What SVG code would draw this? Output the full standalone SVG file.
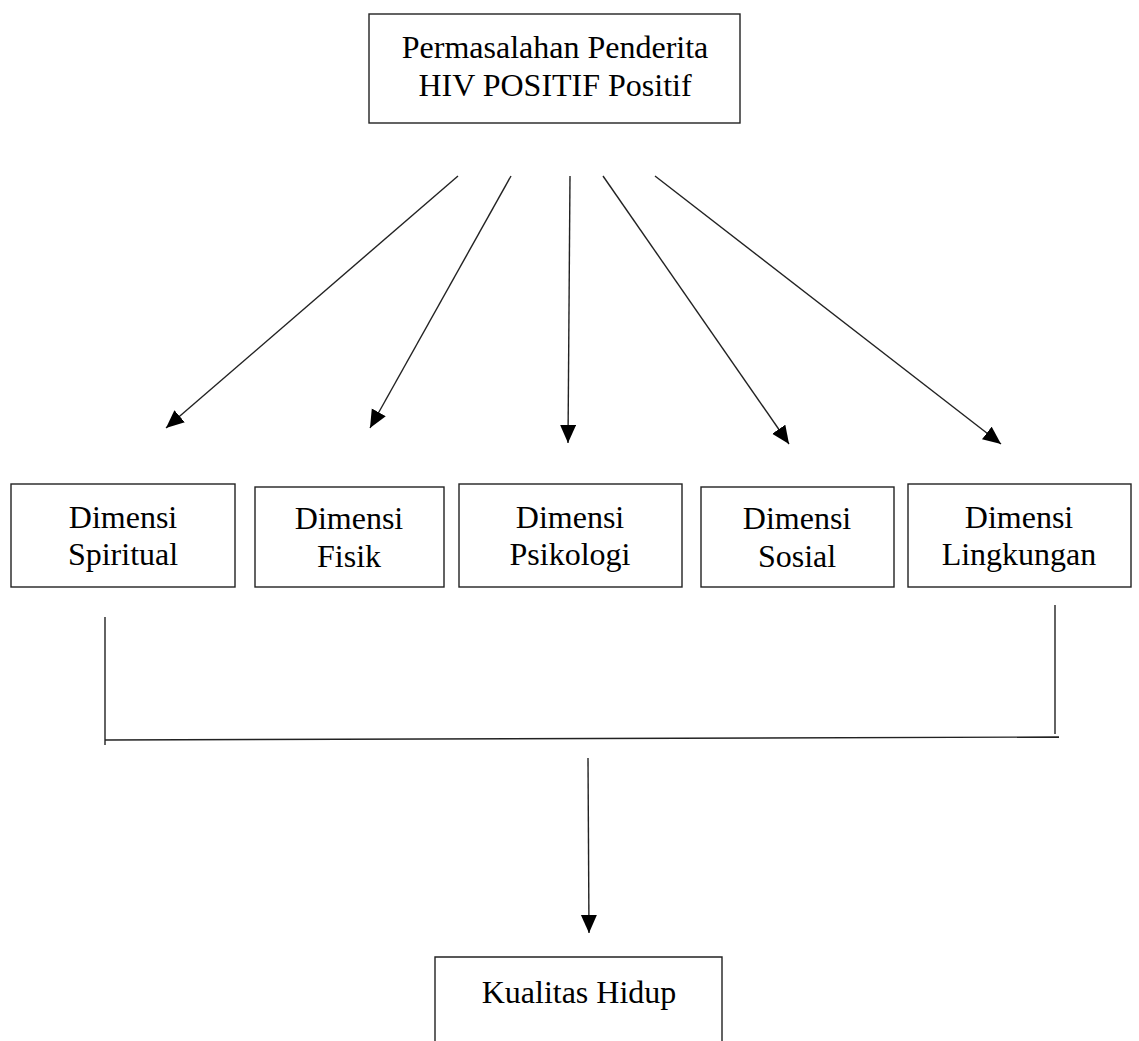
<svg xmlns="http://www.w3.org/2000/svg" width="1139" height="1041" viewBox="0 0 1139 1041">
<style>
.box{fill:#fff;stroke:#222;stroke-width:1.4}
.t{font-family:"Liberation Serif","Times New Roman",serif;font-size:32px;fill:#000;text-anchor:middle}
.c{stroke:#222;stroke-width:1.4;fill:none}
</style>
<defs>
<marker id="ah" markerUnits="userSpaceOnUse" markerWidth="19" markerHeight="17" refX="18" refY="8" orient="auto">
<path d="M0,0 L18,8 L0,16 z" fill="#000"/>
</marker>
</defs>
<rect width="1139" height="1041" fill="#fff"/>
<g id="node-top">
<rect class="box" x="369" y="14" width="371" height="109"/>
<text class="t" x="555" y="58">Permasalahan Penderita</text>
<text class="t" x="555" y="96">HIV POSITIF Positif</text>
</g>
<g id="node-spiritual">
<rect class="box" x="11" y="484" width="224" height="103"/>
<text class="t" x="123" y="528">Dimensi</text>
<text class="t" x="123" y="565">Spiritual</text>
</g>
<g id="node-fisik">
<rect class="box" x="255" y="487" width="189" height="100"/>
<text class="t" x="349" y="529">Dimensi</text>
<text class="t" x="349" y="567">Fisik</text>
</g>
<g id="node-psikologi">
<rect class="box" x="459" y="484" width="223" height="103"/>
<text class="t" x="570" y="528">Dimensi</text>
<text class="t" x="570" y="565">Psikologi</text>
</g>
<g id="node-sosial">
<rect class="box" x="701" y="487" width="193" height="100"/>
<text class="t" x="797" y="529">Dimensi</text>
<text class="t" x="797" y="567">Sosial</text>
</g>
<g id="node-lingkungan">
<rect class="box" x="908" y="484" width="223" height="103"/>
<text class="t" x="1019" y="528">Dimensi</text>
<text class="t" x="1019" y="565">Lingkungan</text>
</g>
<g id="node-kualitas">
<path class="c" d="M435,1041 L435,957 L722,957 L722,1041"/>
<text class="t" x="579" y="1003">Kualitas Hidup</text>
</g>
<g id="connectors">
<line class="c" x1="458" y1="176" x2="166" y2="428" marker-end="url(#ah)"/>
<line class="c" x1="511" y1="176" x2="370" y2="428" marker-end="url(#ah)"/>
<line class="c" x1="570" y1="176" x2="568" y2="443" marker-end="url(#ah)"/>
<line class="c" x1="603" y1="176" x2="789" y2="444" marker-end="url(#ah)"/>
<line class="c" x1="655" y1="176" x2="1001" y2="444" marker-end="url(#ah)"/>
<line class="c" x1="105" y1="617" x2="105" y2="745"/>
<line class="c" x1="1055" y1="605" x2="1055" y2="734"/>
<line class="c" x1="105" y1="740" x2="1059" y2="737"/>
<line class="c" x1="588" y1="758" x2="589" y2="933" marker-end="url(#ah)"/>
</g>
</svg>
